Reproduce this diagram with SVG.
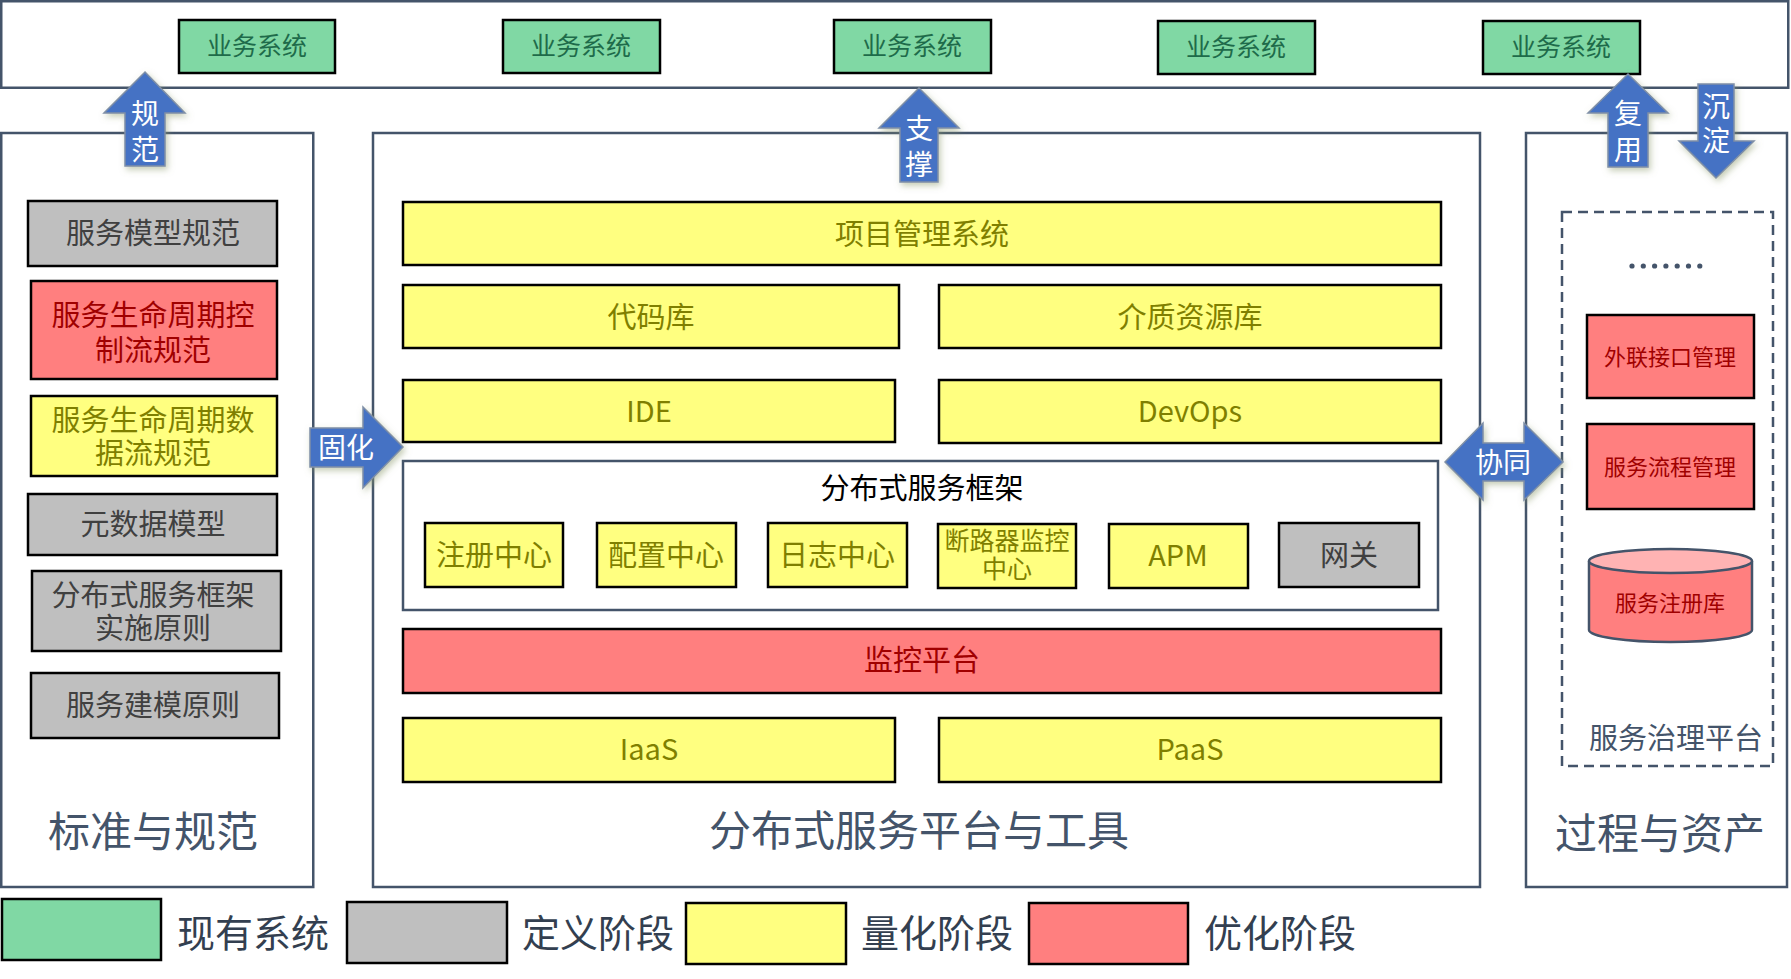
<svg xmlns="http://www.w3.org/2000/svg" width="1791" height="979" viewBox="0 0 1791 979">
<defs>
<style>
text{font-family:"Noto Sans CJK SC","Microsoft YaHei","Noto Sans",sans-serif;text-anchor:middle;dominant-baseline:central}
.panel{fill:#fff;stroke:#44546A;stroke-width:2.5}
.box{stroke:#000;stroke-width:2.5}
.g{fill:#80D8A4}.gr{fill:#BFBFBF}.y{fill:#FFFF80}.r{fill:#FF7F7F}
.tg{fill:#1E6B4A;font-size:25px}
.tgr{fill:#404040;font-size:29px}
.ty{fill:#7F7F00;font-size:29px}
.tr{fill:#A00000;font-size:29px}
.ts{font-size:22px}
.tm{font-size:25px}
.arrow{fill:#4472C4;stroke:#7F8FA6;stroke-width:1.5;filter:url(#sh)}
.ta{fill:#fff;font-size:28px}
.big{fill:#44546A;font-size:42px}
.leg{fill:#333F50;font-size:38px}
</style>
<filter id="sh" x="-30%" y="-30%" width="160%" height="160%">
<feDropShadow dx="2" dy="3" stdDeviation="3" flood-color="#8A9A6A" flood-opacity="0.5"/>
</filter>
</defs>

<g id="top-band">
<rect class="panel" x="1.25" y="1.25" width="1787" height="86.5"/>
</g>

<g id="biz1"><rect class="box g" x="179" y="20" width="156" height="53"/><text class="tg" x="257" y="44">业务系统</text></g>
<g id="biz2"><rect class="box g" x="503" y="20" width="157" height="53"/><text class="tg" x="581" y="44">业务系统</text></g>
<g id="biz3"><rect class="box g" x="834" y="20" width="157" height="53"/><text class="tg" x="912" y="44">业务系统</text></g>
<g id="biz4"><rect class="box g" x="1158" y="21" width="157" height="53"/><text class="tg" x="1236" y="45">业务系统</text></g>
<g id="biz5"><rect class="box g" x="1483" y="21" width="157" height="53"/><text class="tg" x="1561" y="45">业务系统</text></g>

<g id="left-panel">
<rect class="panel" x="1.25" y="133" width="312" height="754"/>
<text class="big" x="153" y="828">标准与规范</text>
</g>
<g id="mid-panel">
<rect class="panel" x="373" y="133" width="1107" height="754"/>
<text class="big" x="919" y="827">分布式服务平台与工具</text>
</g>
<g id="right-panel">
<rect class="panel" x="1526" y="133" width="261" height="754"/>
<text class="big" x="1660" y="830">过程与资产</text>
</g>

<g id="std1"><rect class="box gr" x="28" y="201" width="249" height="65"/><text class="tgr" x="153" y="231">服务模型规范</text></g>
<g id="std2"><rect class="box r" x="31" y="281" width="246" height="98"/><text class="tr" x="153" y="313">服务生命周期控<tspan x="153" dy="35">制流规范</tspan></text></g>
<g id="std3"><rect class="box y" x="31" y="396" width="246" height="80"/><text class="ty" x="153" y="418">服务生命周期数<tspan x="153" dy="33">据流规范</tspan></text></g>
<g id="std4"><rect class="box gr" x="28" y="494" width="249" height="61"/><text class="tgr" x="153" y="522">元数据模型</text></g>
<g id="std5"><rect class="box gr" x="32" y="571" width="249" height="80"/><text class="tgr" x="153" y="593">分布式服务框架<tspan x="153" dy="33">实施原则</tspan></text></g>
<g id="std6"><rect class="box gr" x="31" y="673" width="248" height="65"/><text class="tgr" x="153" y="703">服务建模原则</text></g>

<g id="pms"><rect class="box y" x="403" y="202" width="1038" height="63"/><text class="ty" x="922" y="232">项目管理系统</text></g>
<g id="coderepo"><rect class="box y" x="403" y="285" width="496" height="63"/><text class="ty" x="651" y="315">代码库</text></g>
<g id="media"><rect class="box y" x="939" y="285" width="502" height="63"/><text class="ty" x="1190" y="315">介质资源库</text></g>
<g id="ide"><rect class="box y" x="403" y="380" width="492" height="62"/><text class="ty" x="649" y="409">IDE</text></g>
<g id="devops"><rect class="box y" x="939" y="380" width="502" height="63"/><text class="ty" x="1190" y="409">DevOps</text></g>

<g id="framework">
<rect x="403" y="461" width="1035" height="149" fill="#fff" stroke="#44546A" stroke-width="2.5"/>
<text x="922" y="486" fill="#000" font-size="29">分布式服务框架</text>
</g>
<g id="reg"><rect class="box y" x="425" y="523" width="138" height="64"/><text class="ty" x="494" y="553">注册中心</text></g>
<g id="conf"><rect class="box y" x="597" y="523" width="139" height="64"/><text class="ty" x="666" y="553">配置中心</text></g>
<g id="log"><rect class="box y" x="768" y="523" width="139" height="64"/><text class="ty" x="837" y="553">日志中心</text></g>
<g id="cb"><rect class="box y" x="938" y="524" width="138" height="64"/><text class="ty tm" x="1007" y="539">断路器监控<tspan x="1007" dy="28">中心</tspan></text></g>
<g id="apm"><rect class="box y" x="1109" y="524" width="139" height="64"/><text class="ty" x="1178" y="553">APM</text></g>
<g id="gw"><rect class="box gr" x="1279" y="523" width="140" height="64"/><text class="tgr" x="1349" y="553">网关</text></g>

<g id="monitor"><rect class="box r" x="403" y="629" width="1038" height="64"/><text class="tr" x="922" y="658">监控平台</text></g>
<g id="iaas"><rect class="box y" x="403" y="718" width="492" height="64"/><text class="ty" x="649" y="747">IaaS</text></g>
<g id="paas"><rect class="box y" x="939" y="718" width="502" height="64"/><text class="ty" x="1190" y="747">PaaS</text></g>

<g id="governance">
<rect x="1562" y="212" width="211" height="554" fill="none" stroke="#44546A" stroke-width="2.5" stroke-dasharray="10 6"/>
<g fill="#44546A"><circle cx="1632" cy="266" r="2.6"/><circle cx="1643.3" cy="266" r="2.6"/><circle cx="1654.6" cy="266" r="2.6"/><circle cx="1665.9" cy="266" r="2.6"/><circle cx="1677.2" cy="266" r="2.6"/><circle cx="1688.5" cy="266" r="2.6"/><circle cx="1699.8" cy="266" r="2.6"/></g>
<text x="1676" y="736" fill="#44546A" font-size="29">服务治理平台</text>
</g>
<g id="ext"><rect class="box r" x="1587" y="315" width="167" height="83"/><text class="tr ts" x="1670" y="355">外联接口管理</text></g>
<g id="flow"><rect class="box r" x="1587" y="424" width="167" height="85"/><text class="tr ts" x="1670" y="465">服务流程管理</text></g>
<g id="registry">
<path d="M1589 561 V630 A81.5 12 0 0 0 1752 630 V561" fill="#FF7F7F" stroke="#44546A" stroke-width="2.5"/>
<ellipse cx="1670.5" cy="561" rx="81.5" ry="12" fill="#FFB3B3" stroke="#44546A" stroke-width="2.5"/>
<text class="tr ts" x="1670" y="601">服务注册库</text>
</g>

<g id="connectors">
<g id="a-guifan"><path class="arrow" d="M145 72 L185 113 L165 113 L165 166 L125 166 L125 113 L104 113 Z"/><text class="ta" x="145" y="112">规<tspan x="145" dy="36">范</tspan></text></g>
<g id="a-zhicheng"><path class="arrow" d="M919 88 L959 128 L938 128 L938 182 L900 182 L900 128 L879 128 Z"/><text class="ta" x="919" y="127">支<tspan x="919" dy="36">撑</tspan></text></g>
<g id="a-fuyong"><path class="arrow" d="M1628 74 L1668 113 L1648 113 L1648 167 L1608 167 L1608 113 L1588 113 Z"/><text class="ta" x="1628" y="112">复<tspan x="1628" dy="36">用</tspan></text></g>
<g id="a-chendian"><path class="arrow" d="M1698 84 L1734 84 L1734 141 L1754 141 L1716 178 L1679 141 L1698 141 Z"/><text class="ta" x="1716" y="105">沉<tspan x="1716" dy="34">淀</tspan></text></g>
<g id="a-guhua"><path class="arrow" d="M310 428 L363 428 L363 407 L403 447 L363 488 L363 467 L310 467 Z"/><text class="ta" x="346" y="446">固化</text></g>
<g id="a-xietong"><path class="arrow" d="M1445 462 L1483 423 L1483 443 L1524 443 L1524 423 L1563 462 L1524 500 L1524 481 L1483 481 L1483 500 Z"/><text class="ta" x="1503" y="461">协同</text></g>
</g>

<g id="legend">
<rect class="box g" x="2" y="899" width="159" height="61"/><text class="leg" x="253" y="930">现有系统</text>
<rect class="box gr" x="347" y="902" width="160" height="61"/><text class="leg" x="598" y="930">定义阶段</text>
<rect class="box y" x="686" y="903" width="160" height="61"/><text class="leg" x="937" y="930">量化阶段</text>
<rect class="box r" x="1029" y="903" width="159" height="61"/><text class="leg" x="1280" y="930">优化阶段</text>
</g>
</svg>
